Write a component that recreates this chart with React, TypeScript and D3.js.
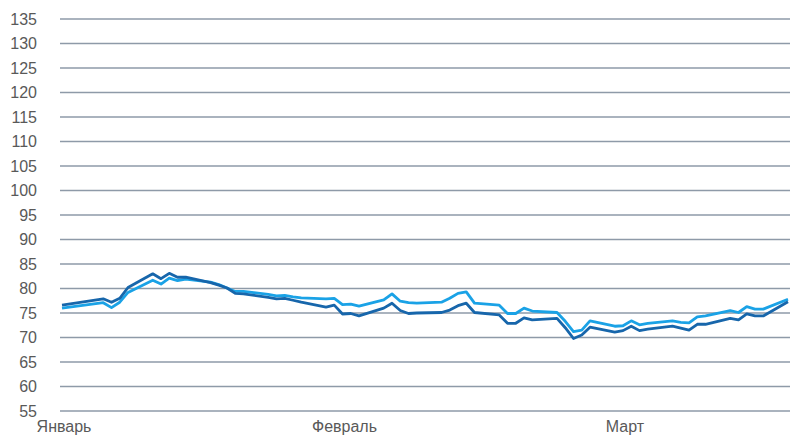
import React from 'react';
import * as d3 from 'd3';

// trading days shown on the chart
const dates = [
  '2018-01-04', '2018-01-09', '2018-01-10', '2018-01-11', '2018-01-12',
  '2018-01-15', '2018-01-16', '2018-01-17', '2018-01-18', '2018-01-19',
  '2018-01-22', '2018-01-23', '2018-01-24', '2018-01-25', '2018-01-26',
  '2018-01-29', '2018-01-30', '2018-01-31', '2018-02-01', '2018-02-02',
  '2018-02-05', '2018-02-06', '2018-02-07', '2018-02-08', '2018-02-09',
  '2018-02-12', '2018-02-13', '2018-02-14', '2018-02-15', '2018-02-16',
  '2018-02-19', '2018-02-20', '2018-02-21', '2018-02-22', '2018-02-23',
  '2018-02-26', '2018-02-27', '2018-02-28', '2018-03-01', '2018-03-02',
  '2018-03-05', '2018-03-06', '2018-03-07', '2018-03-08', '2018-03-09',
  '2018-03-12', '2018-03-13', '2018-03-14', '2018-03-15', '2018-03-16',
  '2018-03-19', '2018-03-20', '2018-03-21', '2018-03-22', '2018-03-23',
  '2018-03-26', '2018-03-27', '2018-03-28', '2018-03-29', '2018-03-30',
  '2018-04-02',
];

const seriesDark = [
  76.6, 77.9, 77.2, 78.0, 80.2,
  83.0, 82.0, 83.1, 82.3, 82.3,
  81.2, 80.7, 80.1, 79.0, 78.9,
  78.2, 77.9, 78.0, 77.6, 77.2,
  76.2, 76.6, 74.8, 74.9, 74.4,
  76.0, 77.0, 75.5, 74.9, 75.0,
  75.1, 75.6, 76.5, 77.0, 75.1,
  74.6, 72.9, 72.9, 74.0, 73.6,
  73.9, 72.0, 69.8, 70.5, 72.1,
  71.1, 71.4, 72.3, 71.4, 71.7,
  72.3, 71.9, 71.5, 72.7, 72.7,
  73.9, 73.6, 74.8, 74.4, 74.4,
  77.3,
];

const seriesLight = [
  76.0, 77.1, 76.1, 77.2, 79.2,
  81.7, 80.9, 82.1, 81.6, 81.9,
  81.3, 80.8, 80.1, 79.4, 79.4,
  78.8, 78.5, 78.6, 78.3, 78.1,
  77.9, 78.0, 76.7, 76.8, 76.4,
  77.7, 78.9, 77.4, 77.1, 77.0,
  77.2, 78.0, 79.0, 79.3, 77.0,
  76.6, 74.9, 74.9, 76.0, 75.4,
  75.1, 73.3, 71.2, 71.5, 73.4,
  72.3, 72.4, 73.4, 72.6, 72.9,
  73.4, 73.1, 73.0, 74.2, 74.4,
  75.5, 75.1, 76.3, 75.8, 75.8,
  77.8,
];

const yTicks = [55, 60, 65, 70, 75, 80, 85, 90, 95, 100, 105, 110, 115, 120, 125, 130, 135];
const xTickDates = ['2018-01-04', '2018-02-07', '2018-03-13'];
const xTickLabels = ['Январь', 'Февраль', 'Март'];

const W = 792;
const H = 435;
const font = '"Liberation Sans", Arial, sans-serif';

export default function App() {
  const parse = d3.utcParse('%Y-%m-%d');
  const days = dates.map(d => parse(d) as Date);

  const x = d3.scaleUtc()
    .domain([days[0], days[days.length - 1]])
    .range([62, 788]);

  const y = d3.scaleLinear()
    .domain([55, 135])
    .range([411, 19]);

  const line = d3.line<number>()
    .x((_, i) => x(days[i]))
    .y(d => y(d));

  return (
    <svg width={W} height={H} style={{ position: 'absolute', left: 0, top: 0 }}>
      <rect width={W} height={H} fill="#ffffff" />
      {yTicks.map(t => (
        <g key={t}>
          <line x1={60} x2={790} y1={y(t)} y2={y(t)} stroke="#8e9aa8" strokeWidth={1.3} />
          <text x={37} y={y(t)} dy="0.36em" textAnchor="end" fontFamily={font} fontSize={16} fill="#595959">
            {t}
          </text>
        </g>
      ))}
      {xTickDates.map((d, i) => (
        <text key={d} x={x(parse(d) as Date) + 2} y={432} textAnchor="middle" fontFamily={font} fontSize={16} fill="#595959">
          {xTickLabels[i]}
        </text>
      ))}
      <path d={line(seriesLight) ?? ''} fill="none" stroke="#1aa2e6" strokeWidth={2.8} strokeLinejoin="round" />
      <path d={line(seriesDark) ?? ''} fill="none" stroke="#1766ab" strokeWidth={2.8} strokeLinejoin="round" />
    </svg>
  );
}
